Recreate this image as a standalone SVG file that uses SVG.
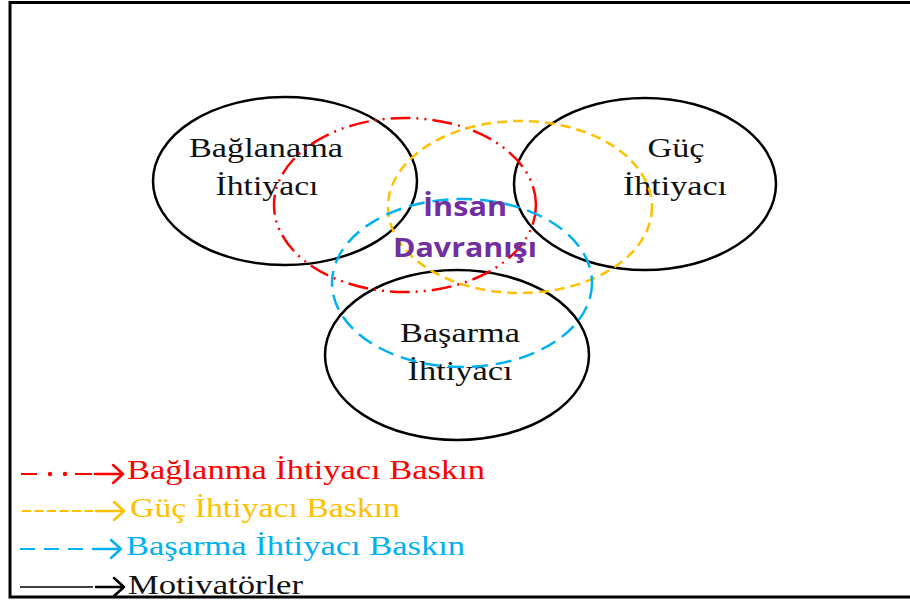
<svg xmlns="http://www.w3.org/2000/svg" width="910" height="603" viewBox="0 0 910 603">
  <style>
    .need { fill: none; stroke: #000; stroke-width: 2.5; }
    .lbl { font-family: "Liberation Serif", "Times New Roman", serif; font-size: 28px; fill: #111; text-anchor: middle; }
    .core { font-family: "Open Sans", "Liberation Sans", sans-serif; font-weight: bold; font-size: 27px; fill: #7030A0; text-anchor: middle; }
    .red { fill: none; stroke: #FF0000; stroke-width: 2.5; stroke-dasharray: 20 6 2 6 2 6; }
    .yel { fill: none; stroke: #FFC000; stroke-width: 2.5; stroke-dasharray: 10 6; }
    .blu { fill: none; stroke: #00B0F0; stroke-width: 2.5; stroke-dasharray: 16 8; }
    .leg { font-family: "Liberation Serif", "Times New Roman", serif; font-size: 27px; }
    .arrow { fill: none; stroke-width: 2.5; stroke-linecap: round; stroke-linejoin: round; }
  </style>

  <rect width="910" height="603" fill="#fff"/>
  <!-- frame -->
  <rect x="10" y="2.5" width="910" height="594.5" fill="none" stroke="#000" stroke-width="3"/>

  <!-- need circles -->
  <g id="baglanma">
    <ellipse class="need" cx="285" cy="181" rx="132" ry="84"/>
    <text class="lbl" x="266" y="157" textLength="154" lengthAdjust="spacingAndGlyphs">Bağlanama</text>
    <text class="lbl" x="267" y="195" textLength="103" lengthAdjust="spacingAndGlyphs">İhtiyacı</text>
  </g>
  <g id="guc">
    <ellipse class="need" cx="645" cy="184" rx="131" ry="86"/>
    <text class="lbl" x="676" y="157" textLength="57" lengthAdjust="spacingAndGlyphs">Güç</text>
    <text class="lbl" x="675" y="195" textLength="104" lengthAdjust="spacingAndGlyphs">İhtiyacı</text>
  </g>
  <g id="basarma">
    <ellipse class="need" cx="457" cy="355" rx="132" ry="85"/>
    <text class="lbl" x="460" y="342" textLength="120" lengthAdjust="spacingAndGlyphs">Başarma</text>
    <text class="lbl" x="460" y="380" textLength="105" lengthAdjust="spacingAndGlyphs">İhtiyacı</text>
  </g>

  <!-- dominant-need behaviour rings -->
  <g id="connectors">
    <ellipse class="red" cx="405" cy="205" rx="131" ry="87"/>
    <ellipse class="yel" cx="520" cy="207" rx="132" ry="86"/>
    <ellipse class="blu" cx="462" cy="283" rx="130" ry="84"/>
  </g>

  <g id="insan">
    <text class="core" x="465" y="216" textLength="84" lengthAdjust="spacingAndGlyphs">İnsan</text>
    <text class="core" x="465" y="257" textLength="144" lengthAdjust="spacingAndGlyphs">Davranışı</text>
  </g>

  <!-- legend -->
  <g id="legend">
    <g stroke="#FF0000">
      <line x1="21" y1="474" x2="37" y2="474" stroke-width="2"/>
      <circle cx="50" cy="474" r="2.2" fill="#FF0000" stroke="none"/>
      <circle cx="65" cy="474" r="2.2" fill="#FF0000" stroke="none"/>
      <line x1="75" y1="474" x2="92" y2="474" stroke-width="2"/>
      <path class="arrow" d="M95 474 H123 M113 465 L123 474 L113 483"/>
    </g>
    <text class="leg" fill="#FF0000" x="127" y="479" textLength="358" lengthAdjust="spacingAndGlyphs">Bağlanma İhtiyacı Baskın</text>

    <g stroke="#FFC000">
      <line x1="22" y1="511" x2="93" y2="511" stroke-width="2" stroke-dasharray="9 3.5"/>
      <path class="arrow" d="M96 511 H124 M114 502 L124 511 L114 520"/>
    </g>
    <text class="leg" fill="#FFC000" x="130" y="517" textLength="270" lengthAdjust="spacingAndGlyphs">Güç İhtiyacı Baskın</text>

    <g stroke="#00B0F0">
      <line x1="20" y1="549" x2="91" y2="549" stroke-width="2" stroke-dasharray="15 9"/>
      <path class="arrow" d="M93 549 H121 M111 540 L121 549 L111 558"/>
    </g>
    <text class="leg" fill="#00B0F0" x="126" y="555" textLength="339" lengthAdjust="spacingAndGlyphs">Başarma İhtiyacı Baskın</text>

    <g stroke="#000">
      <line x1="20" y1="587" x2="93" y2="587" stroke-width="1.6"/>
      <path class="arrow" d="M96 587 H124 M114 578 L124 587 L114 596"/>
    </g>
    <text class="leg" fill="#111" x="128" y="594" textLength="175" lengthAdjust="spacingAndGlyphs">Motivatörler</text>
  </g>
</svg>
